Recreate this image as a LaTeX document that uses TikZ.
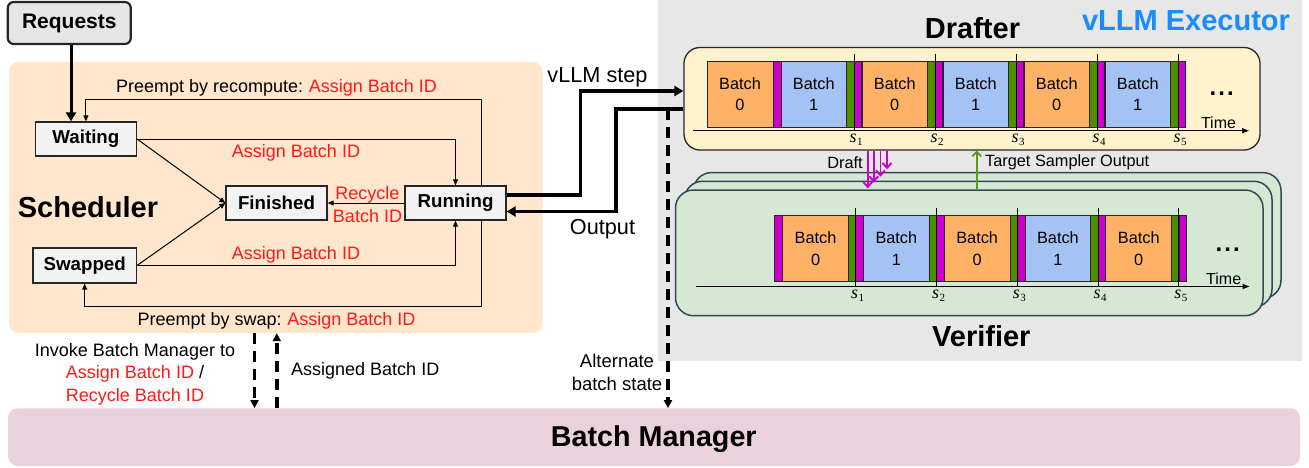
\documentclass[tikz,border=0pt]{standalone}
\usepackage{fontspec}
\setmainfont{Liberation Sans}
\newfontfamily\slblfont{Liberation Serif}
\usetikzlibrary{arrows.meta}
\definecolor{schedbg}{RGB}{255,230,204}
\definecolor{execbg}{RGB}{231,231,231}
\definecolor{bmbg}{RGB}{234,209,220}
\definecolor{boxgray}{RGB}{242,242,242}
\definecolor{reqgray}{RGB}{230,230,230}
\definecolor{draftbg}{RGB}{255,242,204}
\definecolor{verbg}{RGB}{213,232,212}
\definecolor{verline}{RGB}{50,75,80}
\definecolor{borange}{RGB}{255,178,102}
\definecolor{bblue}{RGB}{164,194,244}
\definecolor{bmag}{RGB}{204,0,204}
\definecolor{bgreen}{RGB}{78,143,0}
\definecolor{tred}{RGB}{255,25,25}
\definecolor{execblue}{RGB}{25,140,255}
\definecolor{arrgreen}{RGB}{90,155,20}
\newcommand{\fsz}[2]{\fontsize{#1}{#2}\selectfont}
\newcommand{\steplbl}[1]{{\slblfont\itshape s}\kern0.5pt\raisebox{-3pt}{\fsz{11}{11}\slblfont #1}}
\tikzset{
  statebox/.style={draw=black!85, fill=boxgray, line width=1.3pt, minimum width=101pt,
    minimum height=34pt, inner sep=0pt, font=\fsz{18.7}{22}\bfseries},
  thinarr/.style={line width=1pt, -{Triangle[length=6pt,width=5pt]}},
  thickarr/.style={line width=3.5pt, -{Triangle[length=9pt,width=10pt]}},
  dasharr/.style={line width=3.5pt, dash pattern=on 11pt off 7pt, -{Triangle[length=8pt,width=8pt]}},
  lbl/.style={font=\fsz{18}{22.5}, inner sep=0pt, align=center},
  batchbox/.style={draw=black!85, line width=0.9pt, inner sep=0pt, align=center, font=\fsz{16.3}{21.4}},
  sepbar/.style={draw=black!85, line width=0.9pt},
  tickline/.style={line width=1pt},
  slbl/.style={font=\fsz{18}{18}, inner sep=0pt},
  axisline/.style={line width=1.3pt, -{Triangle[length=7pt,width=5pt]}},
  verbox/.style={draw=verline, fill=verbg, line width=1.5pt, rounded corners=18pt,
    minimum width=587.5pt, minimum height=125.7pt, inner sep=0pt},
  magarr/.style={draw=bmag, line width=1.9pt, -{Straight Barb[length=5pt,width=9pt]}},
  greenarr/.style={draw=arrgreen, line width=1.8pt, -{Straight Barb[length=4.5pt,width=9pt]}},
  bigtitle/.style={font=\fsz{29}{32}\bfseries, inner sep=0pt},
  dots/.style={font=\fsz{24}{24}\bfseries, inner sep=0pt, anchor=base},
}
\begin{document}
\begin{tikzpicture}[x=1pt,y=-1pt]
\useasboundingbox (0,0) rectangle (1309,467);

% backgrounds
\fill[execbg] (658,0) rectangle (1302,361);
\node[fill=schedbg, rounded corners=10pt, minimum width=533.9pt, minimum height=271pt, inner sep=0pt] (sched) at (275.75,197.5) {};
\node[fill=bmbg, rounded corners=10pt, minimum width=1292pt, minimum height=57.7pt, inner sep=0pt] (bm) at (654,437.15) {};
\node[font=\fsz{28.7}{32}\bfseries, inner sep=0pt] (bmtext) at (653.8,439.4) {Batch Manager};

% scheduler
\node[draw=black!85, fill=reqgray, rounded corners=6pt, line width=2.2pt, minimum width=123pt,
  minimum height=42pt, font=\fsz{21}{24}\bfseries, inner sep=0pt] (req) at (69.3,23) {Requests};
\node[statebox] (waiting) at (85.9,139) {Waiting};
\node[statebox] (finished) at (276.5,203) {Finished};
\node[statebox] (running) at (455.5,203) {Running};
\node[statebox, minimum width=103.4pt, minimum height=35pt] (swapped) at (84.7,265.5) {Swapped};
\node[bigtitle] (schedlbl) at (88,207) {Scheduler};

\coordinate (reqout) at ([xshift=1.7pt]req.south);
\draw[thickarr, line width=3pt] (reqout) -- (reqout |- waiting.north);
\coordinate (rtop) at (481.7,99.3);
\coordinate (rbot) at (481.7,306.7);
\draw[thinarr] (running.north -| rtop) -- (rtop) -| (waiting.north);
\draw[thinarr] (running.south -| rbot) -- (rbot) -| (swapped.south);
\draw[thinarr] (waiting.east) -| (running.north);
\draw[thinarr] (swapped.east) -| (running.south);
\draw[thinarr] (waiting.east) -- (finished.west);
\draw[thinarr] (swapped.east) -- (finished.west);
\draw[thinarr] (running.west) -- (finished.east);

\node[lbl, text=tred] (assign1) at (296,153) {Assign Batch ID};
\node[lbl, text=tred] (assign2) at (296,255) {Assign Batch ID};
\node[lbl, text=tred, font=\fsz{18}{23}] (recyc) at (367.5,204.5) {Recycle\\Batch ID};
\node[lbl] (prc) at (276.5,88) {Preempt by recompute:\hspace{-1pt} \textcolor{tred}{Assign Batch ID}};
\node[lbl] (psw) at (276.5,321) {Preempt by swap:\hspace{-1pt} \textcolor{tred}{Assign Batch ID}};

% executor titles
\node[bigtitle, text=execblue] (exectitle) at (1186,21) {vLLM Executor};
\node[bigtitle] (drtitle) at (972.5,28) {Drafter};
\node[bigtitle] (vertitle) at (981.3,335.7) {Verifier};

% drafter
\node[draw=black!85, fill=draftbg, rounded corners=16pt, line width=1.3pt, minimum width=576pt,
  minimum height=102.5pt, inner sep=0pt] (drafter) at (972,98.75) {};
\node[batchbox, fill=borange, minimum width=66pt, minimum height=66.3pt] (d0) at (740,94.15) {Batch\\0};
\draw[sepbar, fill=bmag] (773,61) rectangle (781,127.3);
\foreach \k/\b/\c/\n in {1/781/bblue/1, 2/862/borange/0, 3/943/bblue/1, 4/1024/borange/0, 5/1105/bblue/1}{
  \node[batchbox, fill=\c, minimum width=65.5pt, minimum height=66.3pt] (d\k) at (\b+32.75,94.15) {Batch\\\n};
  \draw[sepbar, fill=bgreen] (\b+65.5,61) rectangle (\b+73,127.3);
  \draw[sepbar, fill=bmag] (\b+73,61) rectangle (\b+80.5,127.3);
  \draw[tickline] (\b+73,54) -- (\b+73,130.7);
  \node[slbl] (ds\k) at (\b+75,140) {\steplbl{\k}};
}
\draw[axisline] (693,130.7) -- (1249,130.7);
\node[font=\fsz{16}{16}, inner sep=0pt] (dtime) at (1218.5,122.7) {Time};
\node[dots] (ddots) at (1221.7,95.7) {.\hspace{2pt}.\hspace{2pt}.};

% verifier stack
\node[verbox] (ver3) at (987.25,235.45) {};
\node[verbox] (ver2) at (978.25,244.15) {};
\node[verbox] (ver1) at (969.25,252.85) {};
\draw[sepbar, fill=bmag] (774.7,215.7) rectangle (782.7,281.7);
\foreach \k/\b/\c/\n in {1/782.7/borange/0, 2/863.5/bblue/1, 3/944.3/borange/0, 4/1025.1/bblue/1, 5/1105.9/borange/0}{
  \node[batchbox, fill=\c, minimum width=65.7pt, minimum height=66pt] (v\k) at (\b+32.85,248.7) {Batch\\\n};
  \draw[sepbar, fill=bgreen] (\b+65.7,215.7) rectangle (\b+73.2,281.7);
  \draw[sepbar, fill=bmag] (\b+73.2,215.7) rectangle (\b+80.8,281.7);
  \draw[tickline] (\b+73,208.3) -- (\b+73,286.5);
  \node[slbl] (vs\k) at (\b+75,295.7) {\steplbl{\k}};
}
\draw[axisline] (695.6,286.5) -- (1249.5,286.5);
\node[font=\fsz{16}{16}, inner sep=0pt] (vtime) at (1223.7,278.3) {Time};
\node[dots] (vdots) at (1227.7,251) {.\hspace{2pt}.\hspace{2pt}.};

% draft / target arrows
\foreach \i/\x/\ey in {1/867.7/188.3, 2/873.8/182.7, 3/880.5/176.7, 4/887/169.3}{
  \coordinate (dend\i) at (\x,\ey);
  \draw[magarr] (drafter.south -| dend\i) -- (dend\i);
}
\node[font=\fsz{16.3}{18}, inner sep=0pt] (draftlbl) at (845,162.7) {Draft};
\coordinate (tso) at (976.7,0);
\draw[greenarr] (ver1.north -| tso) -- (drafter.south -| tso);
\node[font=\fsz{16.3}{18}, inner sep=0pt, anchor=west] (tsolbl) at (985,162.7) {Target Sampler Output};

% vLLM step / output
\node[lbl, font=\fsz{21.7}{25}] (vstep) at (597.5,77) {vLLM step};
\node[lbl, font=\fsz{21.7}{25}] (outlbl) at (602.5,229) {Output};
\coordinate (runA) at ([yshift=8pt]running.east);
\coordinate (drA) at ([yshift=7.75pt]drafter.west);
\coordinate (bend1) at (580.7,0);
\draw[thickarr, line join=miter] (runA) -- (runA -| bend1) |- (drA);
\coordinate (runB) at ([yshift=-8.5pt]running.east);
\coordinate (drB) at ([yshift=-10.25pt]drafter.west);
\coordinate (bend2) at (616,0);
\draw[thickarr, line join=miter] (drB) -- (drB -| bend2) |- (runB);

% batch manager links
\coordinate (dn) at (254.5,0);
\coordinate (upc) at (276.8,0);
\coordinate (alt) at (668,0);
\draw[dasharr] (sched.south -| dn) -- (bm.north -| dn);
\draw[dasharr] (bm.north -| upc) -- (sched.south -| upc);
\draw[dasharr] (drB -| alt) -- (bm.north -| alt);
\node[lbl] (inv) at (135,374.2) {Invoke Batch Manager to\\\textcolor{tred}{Assign Batch ID} /\\\textcolor{tred}{Recycle Batch ID}};
\node[lbl, anchor=west] (asg) at (291,371) {Assigned Batch ID};
\node[lbl, font=\fsz{18.5}{23.3}] (altlbl) at (617,372.7) {Alternate\\batch state};
\end{tikzpicture}
\end{document}
